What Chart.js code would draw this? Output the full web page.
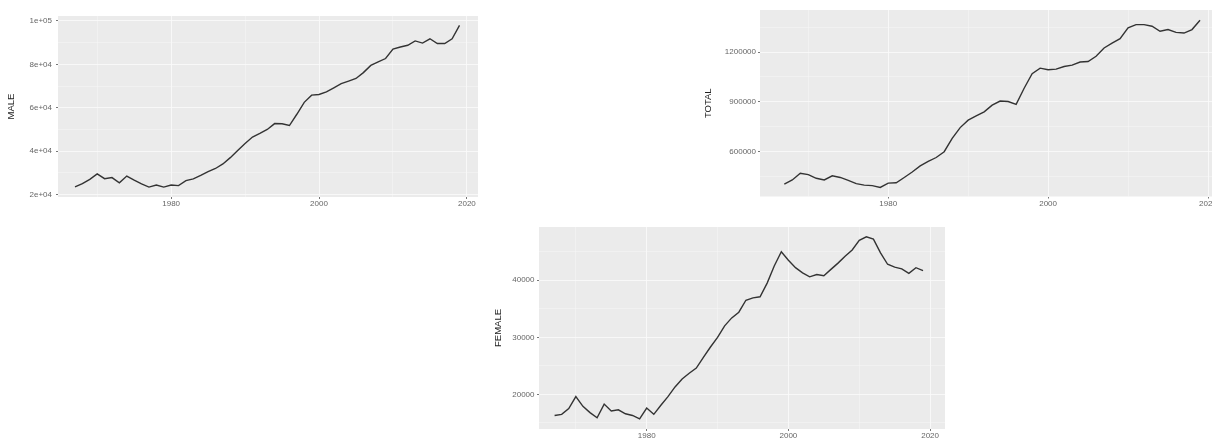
<!DOCTYPE html>
<html>
<head>
<meta charset="utf-8">
<script src="https://cdn.jsdelivr.net/npm/chart.js@4.4.0/dist/chart.umd.min.js"></script>
<style>
  html, body { margin: 0; padding: 0; background: #fff; overflow: hidden; width: 1212px; height: 439px; }
  .panel { position: absolute; }
</style>
</head>
<body>
<div class="panel" style="left:0px;top:0px;"><canvas id="maleChart" width="490" height="215"></canvas></div>
<div class="panel" style="left:700px;top:0px;"><canvas id="totalChart" width="530" height="212"></canvas></div>
<div class="panel" style="left:490px;top:215px;"><canvas id="femaleChart" width="470" height="230"></canvas></div>
<script>
// years on the x axis
const years = [1967, 1968, 1969, 1970, 1971, 1972, 1973, 1974, 1975, 1976,
  1977, 1978, 1979, 1980, 1981, 1982, 1983, 1984, 1985, 1986,
  1987, 1988, 1989, 1990, 1991, 1992, 1993, 1994, 1995, 1996,
  1997, 1998, 1999, 2000, 2001, 2002, 2003, 2004, 2005, 2006,
  2007, 2008, 2009, 2010, 2011, 2012, 2013, 2014, 2015, 2016,
  2017, 2018, 2019];

const maleValues = [23500, 25000, 27000, 29500, 27300, 27800, 25400, 28500, 26600, 24900,
  23400, 24400, 23400, 24400, 24100, 26400, 27200, 28800, 30600, 32000,
  34100, 37000, 40300, 43500, 46500, 48200, 50000, 52700, 52600, 51800,
  57000, 62500, 65800, 66100, 67300, 69200, 71100, 72300, 73500, 76200,
  79500, 81100, 82700, 87000, 88000, 88800, 90800, 89800, 91800, 89600,
  89600, 91800, 98000];

const totalValues = [405000, 430000, 470000, 462000, 440000, 430000, 455000, 445000, 428000, 408000,
  399000, 396000, 385000, 411000, 413000, 445000, 478000, 515000, 542000, 565000,
  600000, 680000, 745000, 790000, 815000, 840000, 880000, 905000, 902000, 885000,
  982000, 1069000, 1103000, 1093000, 1097000, 1113000, 1121000, 1140000, 1143000, 1174000,
  1224000, 1254000, 1280000, 1345000, 1365000, 1365000, 1355000, 1325000, 1335000, 1318000,
  1314000, 1335000, 1391000];

const femaleValues = [16300, 16500, 17500, 19600, 17900, 16800, 15900, 18300, 17100, 17300,
  16600, 16300, 15700, 17600, 16500, 18100, 19600, 21300, 22700, 23700,
  24600, 26500, 28300, 30000, 32000, 33400, 34400, 36500, 36900, 37100,
  39500, 42500, 45000, 43500, 42200, 41300, 40600, 41000, 40800, 41900,
  43000, 44200, 45300, 47000, 47600, 47200, 44800, 42800, 42300, 42000,
  41200, 42200, 41700];

// tick labels
const xTicks = [1980, 2000, 2020];
const maleTicks = [20000, 40000, 60000, 80000, 100000];
const maleTickLabels = ['2e+04', '4e+04', '6e+04', '8e+04', '1e+05'];
const totalTicks = [600000, 900000, 1200000];
const totalTickLabels = ['600000', '900000', '1200000'];
const femaleTicks = [20000, 30000, 40000];
const femaleTickLabels = ['20000', '30000', '40000'];

const FONT = "'Liberation Sans', Arial, sans-serif";

// major ticks plus the ggplot-style minor lines half way between them
function withMinor(majors, min, max) {
  const step = majors[1] - majors[0];
  const all = [];
  for (let v = majors[0] - step / 2; v <= majors[majors.length - 1] + step / 2 + 1e-9; v += step / 2) {
    if (v >= min && v <= max) all.push(v);
  }
  return all;
}

// grey panel background
const panelBg = {
  id: 'panelBg',
  beforeDraw(chart) {
    const a = chart.chartArea;
    const c = chart.ctx;
    c.save();
    c.fillStyle = '#EBEBEB';
    c.fillRect(a.left, a.top, a.right - a.left, a.bottom - a.top);
    c.restore();
  }
};

function makePanel(id, values, cfg) {
  const xAll = withMinor(xTicks, cfg.xMin, cfg.xMax);
  const yAll = withMinor(cfg.yTicks, cfg.yMin, cfg.yMax);
  const isX = v => xTicks.includes(v);
  const isY = v => cfg.yTicks.includes(v);

  new Chart(document.getElementById(id).getContext('2d'), {
    type: 'line',
    data: {
      datasets: [{
        data: years.map((yr, i) => ({ x: yr, y: values[i] })),
        borderColor: '#333333',
        borderWidth: 1.4,
        pointRadius: 0,
        tension: 0,
        fill: false
      }]
    },
    options: {
      responsive: false,
      animation: false,
      devicePixelRatio: 1,
      layout: { padding: { top: cfg.padTop, right: cfg.padRight, left: 0, bottom: 0 } },
      plugins: { legend: { display: false }, tooltip: { enabled: false } },
      scales: {
        x: {
          type: 'linear',
          min: cfg.xMin,
          max: cfg.xMax,
          afterBuildTicks: s => { s.ticks = xAll.map(v => ({ value: v })); },
          afterFit: s => { s.height = cfg.xHeight; },
          border: { display: false },
          grid: {
            color: '#f9f9f9',
            lineWidth: c => (c.tick && isX(c.tick.value)) ? 0.9 : 0.45,
            tickLength: 2,
            tickColor: c => (c.tick && isX(c.tick.value)) ? '#666' : 'rgba(0,0,0,0)'
          },
          ticks: {
            autoSkip: false,
            maxRotation: 0,
            padding: 0,
            color: '#666',
            font: { family: FONT, size: 8 },
            callback: v => isX(v) ? String(v) : ''
          }
        },
        y: {
          min: cfg.yMin,
          max: cfg.yMax,
          afterBuildTicks: s => { s.ticks = yAll.map(v => ({ value: v })); },
          afterFit: s => { s.width = cfg.yWidth; },
          border: { display: false },
          grid: {
            color: '#f9f9f9',
            lineWidth: c => (c.tick && isY(c.tick.value)) ? 0.9 : 0.45,
            tickLength: 2,
            tickColor: c => (c.tick && isY(c.tick.value)) ? '#666' : 'rgba(0,0,0,0)'
          },
          ticks: {
            autoSkip: false,
            padding: cfg.yLabelPad,
            color: '#666',
            font: { family: FONT, size: 8 },
            callback: v => isY(v) ? cfg.yLabels[cfg.yTicks.indexOf(v)] : ''
          },
          title: {
            display: true,
            text: cfg.title,
            color: '#222',
            font: { family: FONT, size: 9.5 },
            padding: { top: cfg.titlePad, bottom: 0 }
          }
        }
      }
    },
    plugins: [panelBg]
  });
}

makePanel('maleChart', maleValues, {
  title: 'MALE', yTicks: maleTicks, yLabels: maleTickLabels,
  xMin: 1964.7, xMax: 2021.5, yMin: 18850, yMax: 102300,
  padTop: 16, padRight: 12, yWidth: 58, xHeight: 18, yLabelPad: 4, titlePad: 5.3
});

makePanel('totalChart', totalValues, {
  title: 'TOTAL', yTicks: totalTicks, yLabels: totalTickLabels,
  xMin: 1963.96, xMax: 2021.5, yMin: 330400, yMax: 1452800,
  padTop: 10, padRight: 10, yWidth: 60, xHeight: 15.5, yLabelPad: 2, titlePad: 2.3
});

makePanel('femaleChart', femaleValues, {
  title: 'FEMALE', yTicks: femaleTicks, yLabels: femaleTickLabels,
  xMin: 1964.8, xMax: 2022.1, yMin: 13930, yMax: 49330,
  padTop: 12, padRight: 15, yWidth: 49, xHeight: 16, yLabelPad: 2.5, titlePad: 2.3
});
</script>
</body>
</html>
